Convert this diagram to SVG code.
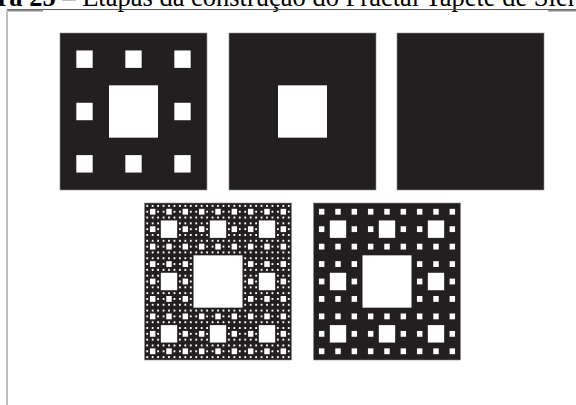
<svg xmlns="http://www.w3.org/2000/svg" xmlns:xlink="http://www.w3.org/1999/xlink" width="576" height="405" viewBox="0 0 576 405">
<style>
.title{font-family:"Liberation Serif","Times New Roman",serif;font-size:26.5px;fill:#000}
.b{font-weight:bold}
.sq{fill:#231f20;stroke:#8c8c8c;stroke-width:0.6}
.hole{fill:#fff}
</style>
<defs>
<g id="H1"><rect class="hole" x="27" y="27" width="27" height="27"/></g>
<g id="H2">
<use href="#H1"/>
<use href="#H1" transform="translate(0,0) scale(0.333333)"/>
<use href="#H1" transform="translate(27,0) scale(0.333333)"/>
<use href="#H1" transform="translate(54,0) scale(0.333333)"/>
<use href="#H1" transform="translate(0,27) scale(0.333333)"/>
<use href="#H1" transform="translate(54,27) scale(0.333333)"/>
<use href="#H1" transform="translate(0,54) scale(0.333333)"/>
<use href="#H1" transform="translate(27,54) scale(0.333333)"/>
<use href="#H1" transform="translate(54,54) scale(0.333333)"/>
</g>
<g id="H3">
<use href="#H1"/>
<use href="#H2" transform="translate(0,0) scale(0.333333)"/>
<use href="#H2" transform="translate(27,0) scale(0.333333)"/>
<use href="#H2" transform="translate(54,0) scale(0.333333)"/>
<use href="#H2" transform="translate(0,27) scale(0.333333)"/>
<use href="#H2" transform="translate(54,27) scale(0.333333)"/>
<use href="#H2" transform="translate(0,54) scale(0.333333)"/>
<use href="#H2" transform="translate(27,54) scale(0.333333)"/>
<use href="#H2" transform="translate(54,54) scale(0.333333)"/>
</g>
<g id="H4">
<use href="#H1"/>
<use href="#H3" transform="translate(0,0) scale(0.333333)"/>
<use href="#H3" transform="translate(27,0) scale(0.333333)"/>
<use href="#H3" transform="translate(54,0) scale(0.333333)"/>
<use href="#H3" transform="translate(0,27) scale(0.333333)"/>
<use href="#H3" transform="translate(54,27) scale(0.333333)"/>
<use href="#H3" transform="translate(0,54) scale(0.333333)"/>
<use href="#H3" transform="translate(27,54) scale(0.333333)"/>
<use href="#H3" transform="translate(54,54) scale(0.333333)"/>
</g>
</defs>
<rect width="576" height="405" fill="#fff"/>
<text class="title" x="-2.5" y="5.5"><tspan class="b">ra 25</tspan> – Etapas da construção do Fractal Tapete de Sier</text>
<g id="frame">
<line x1="7" y1="9.5" x2="576" y2="9.5" stroke="#555" stroke-width="1"/>
<line x1="7" y1="10.5" x2="43" y2="10.5" stroke="#888" stroke-width="2"/>
<line x1="548" y1="10.5" x2="576" y2="10.5" stroke="#888" stroke-width="2"/>
<line x1="7" y1="10" x2="7" y2="405" stroke="#c0c0c0" stroke-width="2"/>
</g>
<g id="level2">
<rect class="sq" x="60" y="33" width="147" height="157"/>
<use href="#H2" transform="translate(60,33) scale(1.814815,1.938272)"/>
</g>
<g id="level1">
<rect class="sq" x="229" y="33" width="147" height="157"/>
<use href="#H1" transform="translate(229,33) scale(1.814815,1.938272)"/>
</g>
<g id="level0">
<rect class="sq" x="397" y="33" width="147" height="157"/>
</g>
<g id="level4">
<rect class="sq" x="144.5" y="203" width="147" height="157"/>
<use href="#H4" transform="translate(144.5,203) scale(1.814815,1.938272)"/>
</g>
<g id="level3">
<rect class="sq" x="313.5" y="203" width="147" height="157"/>
<use href="#H3" transform="translate(313.5,203) scale(1.814815,1.938272)"/>
</g>
</svg>
